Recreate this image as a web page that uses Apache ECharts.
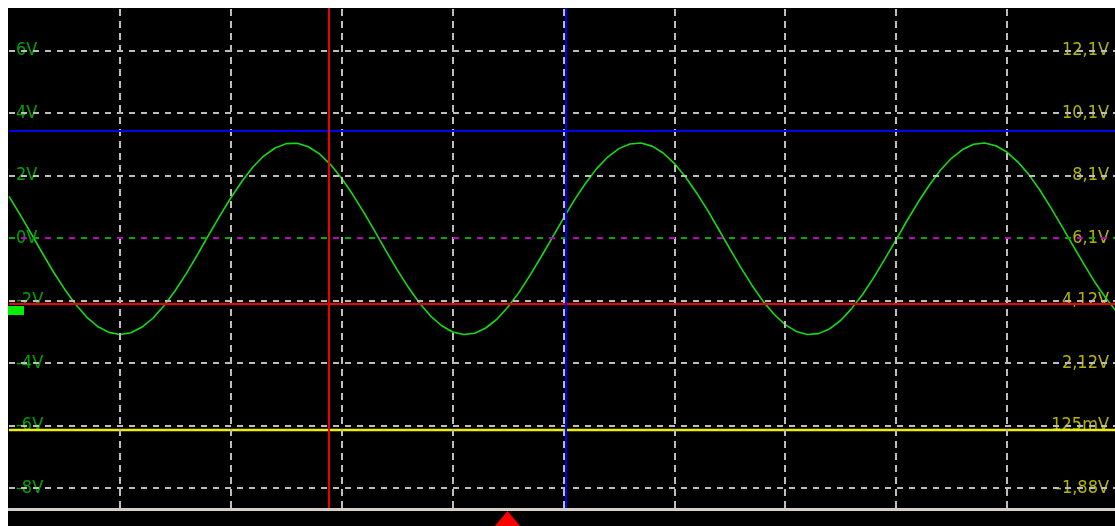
<!DOCTYPE html>
<html><head><meta charset="utf-8">
<script src="https://cdn.jsdelivr.net/npm/echarts@6.0.0/dist/echarts.min.js"></script>
<style>html,body{margin:0;padding:0;background:#000;overflow:hidden}#c{width:1115px;height:526px}</style>
</head><body><div id="c"></div>
<script>
// ---- data ----
const SAMPLE_STEP = 0.1; // horizontal divisions between samples of channel A
const chA = [
  1.33, 0.75, 0.14, -0.48, -1.08, -1.63, -2.12, -2.53, -2.83, -3.02,
  -3.09, -3.03, -2.85, -2.56, -2.16, -1.68, -1.13, -0.53, 0.09, 0.70,
  1.28, 1.81, 2.27, 2.63, 2.88, 3.02, 3.03, 2.92, 2.69, 2.35,
  1.91, 1.39, 0.82, 0.21, -0.41, -1.01, -1.57, -2.07, -2.49, -2.80,
  -3.01, -3.09, -3.05, -2.88, -2.60, -2.21, -1.74, -1.19, -0.60, 0.01,
  0.63, 1.22, 1.75, 2.22, 2.59, 2.86, 3.01, 3.04, 2.94, 2.72,
  2.39, 1.96, 1.45, 0.89, 0.28, -0.34, -0.94, -1.51, -2.02, -2.44,
  -2.77, -2.99, -3.09, -3.06, -2.91, -2.64, -2.26, -1.80, -1.26, -0.67,
  -0.06, 0.56, 1.15, 1.69, 2.17, 2.55, 2.83, 3.00, 3.04, 2.95,
  2.75, 2.43, 2.02, 1.52, 0.95, 0.35, -0.27, -0.87, -1.45, -1.96,
  -2.40
];
const chBLevel = [-6.14, -6.14];
const chBTimes = [0, 10];
const gridX = [1, 2, 3, 4, 5, 6, 7, 8, 9];
const gridY = [-8, -6, -4, -2, 0, 2, 4, 6];
const leftLabels = ['-8V', '-6V', '-4V', '-2V', '0V', '2V', '4V', '6V'];
const rightLabels = ['-1,88V', '125mV', '2,12V', '4,12V', '6,1V', '8,1V', '10,1V', '12,1V'];
const hCursors = [3.43, -2.1];       // blue, red
const vCursors = [2.876, 5.018];     // red, blue
const zeroRef = 0;
const Y_MIN = -8.64, Y_MAX = 7.36, X_MAX = 9.975;

// ---- chart ----
const FONT = "'Liberation Sans Narrow', 'DejaVu Sans Condensed', 'Liberation Sans', sans-serif";
const gridCol = '#bdbdbd';
const chart = echarts.init(document.getElementById('c'), null, {renderer: 'canvas'});
const idxOf = v => gridY.findIndex(g => Math.abs(g - v) < 1e-6);

const option = {
  animation: false,
  backgroundColor: '#000',
  grid: {left: 9, right: 0, top: 8, bottom: 18},
  xAxis: {type: 'value', min: 0, max: X_MAX,
    axisLine: {show: false}, axisTick: {show: false}, axisLabel: {show: false}, splitLine: {show: false}},
  yAxis: [
    {type: 'value', min: Y_MIN, max: Y_MAX, position: 'left', z: 1,
      axisLine: {show: false}, axisTick: {show: false}, splitLine: {show: false},
      axisLabel: {inside: true, margin: 7, customValues: gridY, color: '#00a400',
        fontFamily: FONT, fontSize: 18, backgroundColor: '#000', padding: [0, 1, 0, 0],
        formatter: v => leftLabels[idxOf(v)] || ''}},
    {type: 'value', min: Y_MIN, max: Y_MAX, position: 'right', z: 1,
      axisLine: {show: false}, axisTick: {show: false}, splitLine: {show: false},
      axisLabel: {inside: true, margin: 6, customValues: gridY, color: '#b4b400',
        fontFamily: FONT, fontSize: 18, backgroundColor: '#000', padding: [0, 0, 0, 1],
        formatter: v => rightLabels[idxOf(v)] || ''}}
  ],
  series: [
    {name: 'grid', type: 'line', data: [], z: 0, silent: true,
      markLine: {silent: true, symbol: 'none', label: {show: false}, animation: false,
        data: [
          ...gridY.map(v => ({yAxis: v, lineStyle: {color: gridCol, width: 2, type: [6, 6]}})),
          ...gridX.map(v => ({xAxis: v, lineStyle: {color: gridCol, width: 2, type: [7, 5]}})),
          {yAxis: zeroRef, lineStyle: {color: '#c000c0', width: 2, type: [6, 18], dashOffset: 12}},
          {yAxis: zeroRef, lineStyle: {color: '#00b000', width: 2, type: [6, 18], dashOffset: 0}}
        ]}},
    {name: 'cursors', type: 'line', data: [], z: 2, silent: true,
      markLine: {silent: true, symbol: 'none', label: {show: false}, animation: false,
        data: [
          {yAxis: hCursors[0], lineStyle: {color: '#0000ee', width: 2, type: 'solid'}},
          {yAxis: hCursors[1], lineStyle: {color: '#ee0000', width: 2, type: 'solid'}},
          {xAxis: vCursors[0], lineStyle: {color: '#ee0000', width: 2, type: 'solid'}},
          {xAxis: vCursors[1], lineStyle: {color: '#0000ee', width: 2, type: 'solid'}}
        ]}},
    {name: 'B', type: 'line', z: 3, showSymbol: false, silent: true,
      data: chBTimes.map((t, i) => [t, chBLevel[i]]),
      lineStyle: {color: '#eeee00', width: 2.5}},
    {name: 'A', type: 'line', z: 4, showSymbol: false, silent: true,
      data: chA.map((v, i) => [i * SAMPLE_STEP, v]),
      lineStyle: {color: '#14dc14', width: 1.6}}
  ],
  graphic: [
    {type: 'rect', z: 100, shape: {x: 0, y: 0, width: 1115, height: 8}, style: {fill: '#fff'}},
    {type: 'rect', z: 100, shape: {x: 0, y: 0, width: 8, height: 526}, style: {fill: '#fff'}},
    {type: 'rect', z: 100, shape: {x: 8, y: 508, width: 1107, height: 3}, style: {fill: '#d4d0c8'}},
    {type: 'rect', z: 100, shape: {x: 8, y: 511, width: 1107, height: 15}, style: {fill: '#000'}},
    {type: 'polygon', z: 101, shape: {points: [[494, 527], [507.5, 511], [521, 527]]}, style: {fill: '#ff0000'}},
    {type: 'rect', z: 101, shape: {x: 8, y: 306, width: 16, height: 9}, style: {fill: '#00ee00'}}
  ]
};
chart.setOption(option);
</script>
</body></html>
